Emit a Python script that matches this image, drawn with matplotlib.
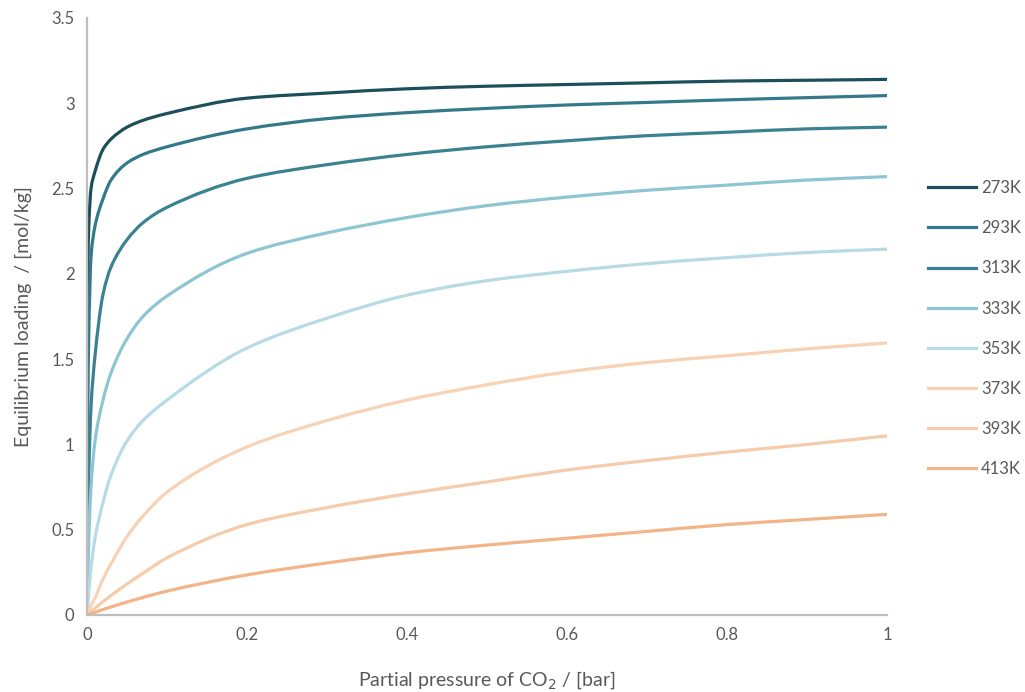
import matplotlib
matplotlib.use("Agg")
import numpy as np
import matplotlib.pyplot as plt
from matplotlib.path import Path
from matplotlib.patches import PathPatch
from matplotlib.lines import Line2D
from matplotlib.ticker import FuncFormatter

# Isotermas de adsorción de CO2 (carga de equilibrio vs. presión parcial)
temperaturas = ["273K", "293K", "313K", "333K", "353K", "373K", "393K", "413K"]

p_bajas = [0, 0.0005, 0.001, 0.002, 0.005, 0.01, 0.02, 0.03, 0.05, 0.07, 0.1]
p_altas = [0.2, 0.3, 0.4, 0.5, 0.6, 0.7, 0.8, 0.9, 1.0]
presion = p_bajas + p_altas

q_273 = [0, 1.50, 2.00, 2.25, 2.50, 2.60, 2.73, 2.79, 2.86, 2.90, 2.94,
         3.03, 3.06, 3.085, 3.10, 3.11, 3.12, 3.13, 3.135, 3.14]
q_293 = [0, 0.80, 1.20, 1.60, 2.10, 2.28, 2.44, 2.55, 2.65, 2.70, 2.745,
         2.85, 2.91, 2.945, 2.97, 2.99, 3.005, 3.02, 3.033, 3.045]
q_313 = [0, 0.25, 0.45, 0.78, 1.22, 1.52, 1.88, 2.04, 2.20, 2.30, 2.39,
         2.56, 2.64, 2.70, 2.745, 2.78, 2.81, 2.83, 2.85, 2.86]
q_333 = [0, 0.13, 0.25, 0.42, 0.75, 1.02, 1.26, 1.42, 1.62, 1.75, 1.87,
         2.12, 2.24, 2.33, 2.40, 2.45, 2.49, 2.52, 2.55, 2.57]
q_353 = [0, 0.03, 0.06, 0.12, 0.28, 0.45, 0.66, 0.82, 1.02, 1.14, 1.26,
         1.565, 1.74, 1.875, 1.96, 2.015, 2.06, 2.095, 2.125, 2.145]
q_373 = [0, 0.006, 0.012, 0.023, 0.055, 0.10, 0.21, 0.30, 0.46, 0.58, 0.72,
         0.985, 1.14, 1.26, 1.35, 1.425, 1.48, 1.52, 1.56, 1.595]
q_393 = [0, 0.002, 0.004, 0.008, 0.02, 0.04, 0.078, 0.114, 0.182, 0.245, 0.335,
         0.53, 0.63, 0.71, 0.78, 0.85, 0.905, 0.955, 1.00, 1.05]
q_413 = [0, 0.0008, 0.0016, 0.0033, 0.008, 0.016, 0.032, 0.047, 0.076, 0.103, 0.14,
         0.235, 0.305, 0.365, 0.41, 0.45, 0.49, 0.53, 0.56, 0.59]

cargas = [q_273, q_293, q_313, q_333, q_353, q_373, q_393, q_413]
colores = ["#1d4e5b", "#34798a", "#3a8292", "#8ec5d3", "#b7dbe5",
           "#f8d2b4", "#f6cbaa", "#f2b488"]


def trazo_suave(x, y):
    """Path de Bézier por los puntos, con pendientes monótonas (tipo PCHIP)."""
    x = np.asarray(x, float)
    y = np.asarray(y, float)
    h = np.diff(x)
    d = np.diff(y) / h
    m = np.zeros_like(y)
    m[0], m[-1] = d[0], d[-1]
    for k in range(1, len(x) - 1):
        if d[k - 1] * d[k] > 0:
            w1 = 2 * h[k] + h[k - 1]
            w2 = h[k] + 2 * h[k - 1]
            m[k] = (w1 + w2) / (w1 / d[k - 1] + w2 / d[k])
    verts = [(x[0], y[0])]
    codes = [Path.MOVETO]
    for k in range(len(x) - 1):
        t = h[k] / 3.0
        verts += [(x[k] + t, y[k] + m[k] * t),
                  (x[k + 1] - t, y[k + 1] - m[k + 1] * t),
                  (x[k + 1], y[k + 1])]
        codes += [Path.CURVE4] * 3
    return Path(verts, codes)


plt.rcParams["font.family"] = ["Lato", "DejaVu Sans"]

fig = plt.figure(figsize=(10.25, 6.92), dpi=100)
ax = fig.add_axes([0.0849, 0.1113, 0.7805, 0.8627])

manejadores = []
for etiqueta, q, c in zip(temperaturas, cargas, colores):
    ax.add_patch(PathPatch(trazo_suave(presion, q), fill=False, edgecolor=c,
                           linewidth=2.3, joinstyle="round", capstyle="round"))
    manejadores.append(Line2D([], [], color=c, linewidth=2.3, label=etiqueta))

ax.set_xlim(0, 1)
ax.set_ylim(0, 3.5)
ax.set_xticks([0, 0.2, 0.4, 0.6, 0.8, 1.0])
ax.set_yticks([0, 0.5, 1, 1.5, 2, 2.5, 3, 3.5])
ax.xaxis.set_major_formatter(FuncFormatter(lambda v, pos: f"{v:g}"))
ax.yaxis.set_major_formatter(FuncFormatter(lambda v, pos: f"{v:g}"))
ax.tick_params(length=0, labelsize=12, colors="#595959", pad=9)

for lado in ["top", "right"]:
    ax.spines[lado].set_visible(False)
for lado in ["left", "bottom"]:
    ax.spines[lado].set_color("#bfbfbf")
    ax.spines[lado].set_linewidth(1.6)

ax.set_xlabel("Partial pressure of CO$_2$ / [bar]", fontsize=14,
              color="#595959", labelpad=19)
ax.set_ylabel("Equilibrium loading  / [mol/kg]", fontsize=14,
              color="#595959", labelpad=14)

fig.legend(handles=manejadores, loc="center left",
           bbox_to_anchor=(0.905, 0.525), frameon=False,
           fontsize=12, handlelength=2.9, handletextpad=0.3,
           labelspacing=1.45, borderpad=0, borderaxespad=0,
           labelcolor="#595959")

fig.savefig("out.png", dpi=100, facecolor="white")
